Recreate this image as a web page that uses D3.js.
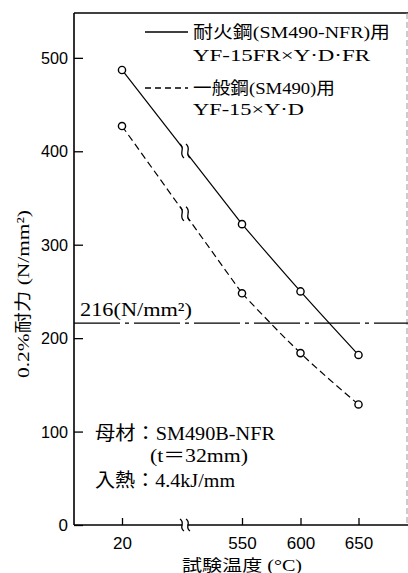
<!DOCTYPE html>
<html><head><meta charset="utf-8">
<script src="https://cdn.jsdelivr.net/npm/d3@7"></script>
<style>html,body{margin:0;padding:0;background:#fff;}</style>
</head><body>
<svg id="c" width="408" height="573"></svg>
<script>
// ---- data ----
const temps = [20, 550, 600, 650];
const tickLabels = ["20", "550", "600", "650"];
const frSeries = [487, 322, 250, 182];      // 耐火鋼用 YF-15FR×Y·D·FR
const genSeries = [427, 248, 184, 129];     // 一般鋼用 YF-15×Y·D
const yTicks = [0, 100, 200, 300, 400, 500];
const refValue = 216;
const legendLines1 = ["耐火鋼(SM490-NFR)用", "YF-15FR×Y·D·FR"];
const legendLines2 = ["一般鋼(SM490)用", "YF-15×Y·D"];
const noteLines = ["母材：SM490B-NFR", "(t＝32mm)", "入熱：4.4kJ/mm"];
const refLabel = "216(N/mm²)";
const yTitle = "0.2%耐力 (N/mm²)";
const xTitle = "試験温度 (°C)";

// ---- layout ----
const L = 74, T = 13, R = 408, B = 525;
const svg = d3.select("#c");
const serif = "'Liberation Serif','DejaVu Serif','Noto Sans CJK JP',serif";
const sans = "'Liberation Sans','Arial',sans-serif";

const x = d3.scaleLinear().domain(temps).range([122, 242, 300.5, 358.5]);
const y = d3.scaleLinear().domain([0, 548]).range([B, T]);
const breakX = x(20) + 0.525 * (x(550) - x(20));

// frame
svg.append("line").attr("x1", L).attr("x2", R).attr("y1", T).attr("y2", T)
  .attr("stroke", "#000").attr("stroke-width", 1.6);
svg.append("line").attr("x1", R - 1).attr("x2", R - 1).attr("y1", T).attr("y2", B)
  .attr("stroke", "#999").attr("stroke-width", 1).attr("stroke-dasharray", "6,3");

// y axis
const gy = svg.append("g").attr("transform", `translate(${L},0)`)
  .call(d3.axisLeft(y).tickValues(yTicks).tickSize(-9).tickPadding(6));
gy.select(".domain").remove();
gy.selectAll(".tick line").attr("stroke", "#000").attr("stroke-width", 1.3);
gy.selectAll(".tick text").attr("font-family", sans).attr("font-size", 17).attr("fill", "#000")
  .attr("textLength", 27).attr("lengthAdjust", "spacingAndGlyphs");
gy.selectAll(".tick text").filter(d => d === 0).attr("textLength", null);
svg.append("line").attr("x1", L).attr("x2", L).attr("y1", T).attr("y2", B)
  .attr("stroke", "#000").attr("stroke-width", 1.6);

// x axis
const gx = svg.append("g").attr("transform", `translate(0,${B})`)
  .call(d3.axisBottom(x).tickValues(temps).tickFormat((d, i) => tickLabels[i]).tickSize(-7).tickPadding(12));
gx.select(".domain").remove();
gx.selectAll(".tick line").attr("stroke", "#000").attr("stroke-width", 1.3);
gx.selectAll(".tick text").attr("font-family", sans).attr("font-size", 17).attr("fill", "#000");
svg.append("line").attr("x1", L).attr("x2", R).attr("y1", B).attr("y2", B)
  .attr("stroke", "#000").attr("stroke-width", 1.6);

// break helper: white band with two S strokes
function breakMark(cx, cy, h) {
  const g = svg.append("g");
  const s = (dx) => `M${cx + dx - 2},${cy - h} C${cx + dx + 4},${cy - h / 3} ${cx + dx - 4},${cy + h / 3} ${cx + dx + 2},${cy + h}`;
  g.append("rect").attr("x", cx - 2.5).attr("y", cy - h * 0.6).attr("width", 5).attr("height", h * 1.2).attr("fill", "#fff");
  g.append("path").attr("d", s(-3)).attr("fill", "none").attr("stroke", "#000").attr("stroke-width", 1.3);
  g.append("path").attr("d", s(3)).attr("fill", "none").attr("stroke", "#000").attr("stroke-width", 1.3);
}

// reference line 216
svg.append("line").attr("x1", L).attr("x2", R).attr("y1", y(refValue)).attr("y2", y(refValue))
  .attr("stroke", "#000").attr("stroke-width", 1.2).attr("stroke-dasharray", "46,5,4,5");
svg.append("text").attr("x", 80).attr("y", y(refValue) - 7).text(refLabel)
  .attr("font-family", serif).attr("font-size", 19).attr("textLength", 112).attr("lengthAdjust", "spacingAndGlyphs");

// series
function drawSeries(vals, dash) {
  const pts = temps.map((t, i) => [x(t), y(vals[i])]);
  svg.append("path").attr("d", d3.line()(pts.slice(0, 2)))
    .attr("fill", "none").attr("stroke", "#000").attr("stroke-width", 1.2).attr("stroke-dasharray", dash);
  svg.append("path").attr("d", d3.line().curve(d3.curveMonotoneX)(pts.slice(1)))
    .attr("fill", "none").attr("stroke", "#000").attr("stroke-width", 1.2).attr("stroke-dasharray", dash);
  const by = pts[0][1] + (breakX - pts[0][0]) / (pts[1][0] - pts[0][0]) * (pts[1][1] - pts[0][1]);
  breakMark(breakX, by, 7);
  svg.append("g").selectAll("circle").data(pts).join("circle")
    .attr("cx", d => d[0]).attr("cy", d => d[1]).attr("r", 3.6)
    .attr("fill", "#fff").attr("stroke", "#000").attr("stroke-width", 1.4);
}
drawSeries(frSeries, null);
drawSeries(genSeries, "7,4");

// x-axis break
breakMark(breakX, B, 6);

// legend
const lg = svg.append("g").attr("font-family", serif).attr("font-size", 17).attr("fill", "#000");
lg.append("line").attr("x1", 145).attr("x2", 188).attr("y1", 32).attr("y2", 32).attr("stroke", "#000").attr("stroke-width", 1.3);
lg.append("line").attr("x1", 145).attr("x2", 188).attr("y1", 88).attr("y2", 88).attr("stroke", "#000").attr("stroke-width", 1.3).attr("stroke-dasharray", "6,4");
const legendText = [[legendLines1[0], 38, 197], [legendLines1[1], 61, 177], [legendLines2[0], 94, 142], [legendLines2[1], 115, 111]];
legendText.forEach(([t, yy, w]) => lg.append("text").attr("x", 193).attr("y", yy).text(t)
  .attr("textLength", w).attr("lengthAdjust", "spacingAndGlyphs"));

// notes
const ng = svg.append("g").attr("font-family", serif).attr("font-size", 19).attr("fill", "#000");
[[noteLines[0], 95, 440, 180], [noteLines[1], 150, 462, 98], [noteLines[2], 95, 487, 140]].forEach(([t, xx, yy, w]) =>
  ng.append("text").attr("x", xx).attr("y", yy).text(t).attr("textLength", w).attr("lengthAdjust", "spacingAndGlyphs"));

// axis titles
svg.append("text").attr("transform", "translate(29,294) rotate(-90)").attr("text-anchor", "middle")
  .attr("font-family", serif).attr("font-size", 17).text(yTitle)
  .attr("textLength", 168).attr("lengthAdjust", "spacingAndGlyphs");
svg.append("text").attr("x", 242).attr("y", 571).attr("text-anchor", "middle")
  .attr("font-family", serif).attr("font-size", 16).text(xTitle)
  .attr("textLength", 120).attr("lengthAdjust", "spacingAndGlyphs");
</script>
</body></html>
